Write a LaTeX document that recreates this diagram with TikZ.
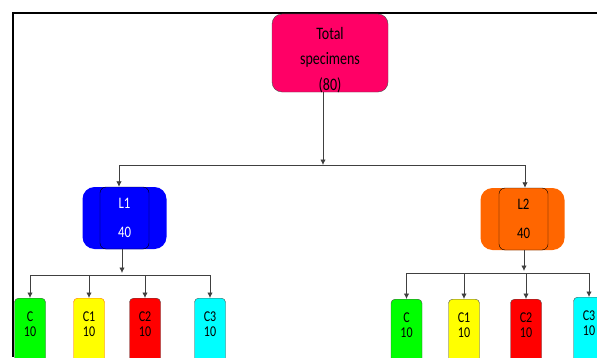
\documentclass[tikz,border=0pt]{standalone}
\usepackage{fontspec}
\setmainfont{Carlito}
\newfontfamily\diagfont{Carlito}[FakeStretch=0.8]
\usetikzlibrary{shapes,arrows.meta,positioning}

\definecolor{totalpink}{RGB}{255,0,102}
\definecolor{lvlblue}{RGB}{0,0,255}
\definecolor{lvlorange}{RGB}{255,102,0}
\definecolor{cgreen}{RGB}{0,255,0}
\definecolor{cyellow}{RGB}{255,255,0}
\definecolor{cred}{RGB}{255,0,0}
\definecolor{ccyan}{RGB}{0,255,255}

\tikzset{
  conn/.style={draw=black!75, line width=0.8pt},
  arr/.style={conn, -{Latex[length=5.5pt,width=5.5pt]}},
  totalbox/.style={draw=black!70, fill=totalpink, rounded corners=10pt,
    minimum width=116pt, minimum height=78pt, inner sep=0pt},
  totaltext/.style={align=center, yshift=-7pt,
    font=\diagfont\fontsize{17.5}{25.5}\selectfont},
  lvlback/.style={rounded corners=12pt, minimum width=84pt,
    minimum height=62pt, inner sep=0pt},
  lvlfront/.style={draw=black, rounded corners=6pt, minimum width=49pt,
    minimum height=62pt, inner sep=0pt, align=center,
    font=\diagfont\fontsize{16}{29.5}\selectfont},
  cbox/.style={draw=black!70, rounded corners=4pt, minimum width=31pt,
    minimum height=75pt, inner sep=0pt, anchor=north},
  ctext/.style={anchor=north, align=center, yshift=-10pt,
    font=\diagfont\fontsize{15}{15.5}\selectfont},
}

\begin{document}
\begin{tikzpicture}[x=1pt,y=1pt]
\useasboundingbox (0,0) rectangle (597,357);
\clip (0,0) rectangle (597,357);

%Frame
\draw[line width=1.4pt] (13,0) -- (13,344) -- (597,344);

%Total
\node[totalbox, label={[totaltext]center:{Total\\specimens\\(80)}}] (total) at (330,304) {};

%Levels
\node[lvlback, fill=lvlblue] (l1) at (124.5,139) {};
\node[lvlfront, fill=lvlblue, text=white] (l1f) at (124.5,139) {L1\\40};
\node[lvlback, fill=lvlorange] (l2) at (522.5,138) {};
\node[lvlfront, fill=lvlorange] (l2f) at (523.5,138) {L2\\40};

%Groups under L1
\node[cbox, fill=cgreen, label={[ctext]north:{C\\10}}] (c0) at (30,59) {};
\node[cbox, fill=cyellow, draw=orange!80!red, label={[ctext]north:{C1\\10}}] (c1) at (89,59) {};
\node[cbox, fill=cred, label={[ctext]north:{C2\\10}}] (c2) at (145,59) {};
\node[cbox, fill=ccyan, label={[ctext]north:{C3\\10}}] (c3) at (210,59) {};

%Groups under L2
\node[cbox, fill=cgreen, label={[ctext]north:{C\\10}}] (d0) at (406.5,58) {};
\node[cbox, fill=cyellow, label={[ctext]north:{C1\\10}}] (d1) at (464,58) {};
\node[cbox, fill=cred, label={[ctext]north:{C2\\10}}] (d2) at (526,58) {};
\node[cbox, fill=ccyan, label={[ctext]north:{C3\\10}}] (d3) at (589,60) {};

% Connectors
\coordinate (split) at (323,192);
\coordinate (l1in) at (119,192);
\coordinate (l2in) at (525,192);
\draw[arr] (total.south -| split) -- (split);
\draw[conn] (l1in) -- (l2in);
\draw[arr] (l1in) -- (l1in |- l1.north);
\draw[arr] (l2in) -- (l2in |- l2.north);

\coordinate (l1out) at (122,82);
\draw[arr] (l1.south -| l1out) -- ([yshift=2pt]l1out);
\draw[conn] (l1out -| c0) -- (l1out -| c3);
\foreach \cn in {c0,c1,c2,c3}
\draw[arr] (l1out -| \cn) -- (\cn.north);

\coordinate (l2out) at (524,84);
\draw[arr] (l2.south -| l2out) -- ([yshift=2pt]l2out);
\draw[conn] (l2out -| d0) -- (l2out -| d3);
\foreach \cn in {d0,d1,d2,d3}
\draw[arr] (l2out -| \cn) -- (\cn.north);

\end{tikzpicture}
\end{document}
